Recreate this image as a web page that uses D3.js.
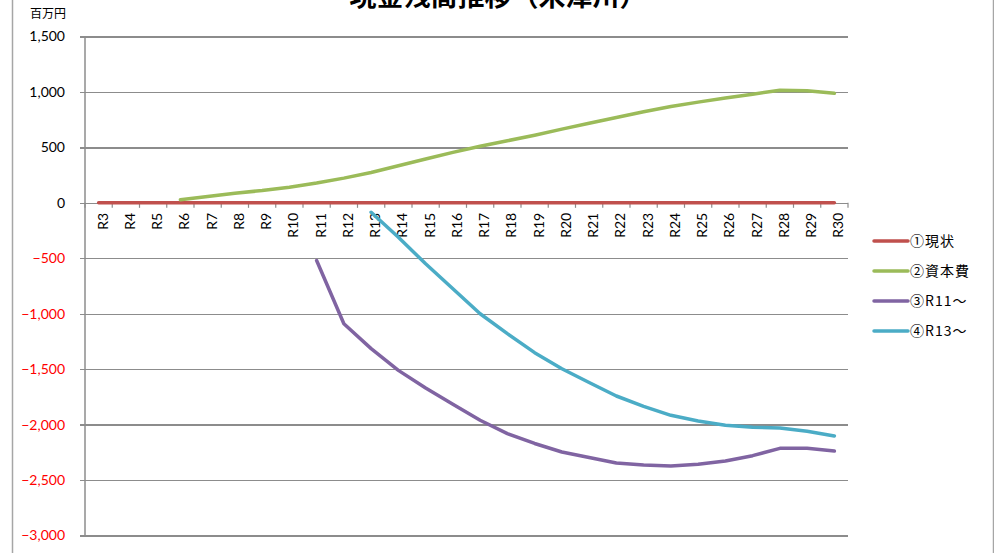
<!DOCTYPE html>
<html>
<head>
<meta charset="utf-8">
<script src="https://cdn.jsdelivr.net/npm/d3@7/dist/d3.min.js"></script>
<style>
  html, body { margin: 0; padding: 0; background: #fff; }
  svg { display: block; }
  text { font-family: "Lato", "Noto Sans CJK JP", sans-serif; }
</style>
</head>
<body>
<svg id="chart" width="994" height="553"></svg>
<script>
// Fiscal years (Reiwa 3 to Reiwa 30)
const categories = ["R3","R4","R5","R6","R7","R8","R9","R10","R11","R12","R13","R14","R15","R16",
  "R17","R18","R19","R20","R21","R22","R23","R24","R25","R26","R27","R28","R29","R30"];

// Cash balance by scenario, millions of yen (null = no value for that year)
const genjo = [0,0,0,0,0,0,0,0,0,0,0,0,0,0,0,0,0,0,0,0,0,0,0,0,0,0,0,0];
const shihonhi = [null,null,null,27,57,87,111,141,178,223,274,334,395,455,
  510,560,610,665,718,770,822,868,908,945,980,1016,1010,988];
const fromR11 = [null,null,null,null,null,null,null,null,-520,-1090,-1315,-1511,-1670,-1817,
  -1961,-2081,-2170,-2247,-2297,-2346,-2364,-2373,-2358,-2328,-2280,-2214,-2214,-2238];
const fromR13 = [null,null,null,null,null,null,null,null,null,null,-85,-310,-550,-775,
  -1000,-1180,-1351,-1496,-1620,-1742,-1835,-1916,-1967,-2006,-2024,-2030,-2060,-2102];

const seriesNames = ["①現状", "②資本費", "③R11～", "④R13～"];
const seriesColors = ["#C0504D", "#9BBB59", "#8064A2", "#4BACC6"];
const yTicks = [1500, 1000, 500, 0, -500, -1000, -1500, -2000, -2500, -3000];

const series = [genjo, shihonhi, fromR11, fromR13];

const svg = d3.select("#chart");
const plot = { left: 85, right: 848, top: 36.5, bottom: 535.5 };

// chart-area frame edges
svg.append("line").attr("x1", 12.5).attr("x2", 12.5).attr("y1", 0).attr("y2", 553)
  .attr("stroke", "#a6a6a6").attr("stroke-width", 1.5);
svg.append("line").attr("x1", 993.5).attr("x2", 993.5).attr("y1", 0).attr("y2", 553)
  .attr("stroke", "#a6a6a6").attr("stroke-width", 1.5);

const x = d3.scaleBand().domain(categories).range([plot.left, plot.right]);
const y = d3.scaleLinear().domain([-3000, 1500]).range([plot.bottom, plot.top]);

// title (sits at the very top of the chart area)
svg.append("text")
  .attr("x", 498).attr("y", 6)
  .attr("text-anchor", "middle")
  .style("font-family", "'Noto Sans CJK JP', sans-serif")
  .style("font-weight", "bold")
  .style("font-size", "27px")
  .attr("fill", "#000")
  .text("現金残高推移（米津川）");

// unit label
svg.append("text")
  .attr("x", 30).attr("y", 18)
  .style("font-family", "'Noto Sans CJK JP', sans-serif")
  .style("font-size", "12px")
  .attr("fill", "#000")
  .text("百万円");

// horizontal gridlines with tick stubs
const yAxis = d3.axisLeft(y).tickValues(yTicks)
  .tickSize(-(plot.right - plot.left)).tickPadding(0).tickFormat(d3.format(","));
const yg = svg.append("g").attr("transform", `translate(${plot.left},0)`).call(yAxis);
yg.select(".domain").remove();
yg.selectAll(".tick line").attr("stroke", "#8c8c8c").attr("stroke-width", 1.3)
  .attr("x1", -5).attr("shape-rendering", "crispEdges");
yg.selectAll(".tick text")
  .attr("x", -20)
  .style("font-size", "14px")
  .attr("fill", d => d < 0 ? "#ff0000" : "#000");

// vertical axis line
svg.append("line")
  .attr("x1", plot.left).attr("x2", plot.left)
  .attr("y1", y(1500)).attr("y2", y(-3000))
  .attr("stroke", "#8c8c8c").attr("stroke-width", 1.5);

// category axis on the zero line
const xAxis = d3.axisBottom(x).tickSize(0).tickPadding(0);
const xg = svg.append("g").attr("transform", `translate(0,${y(0)})`).call(xAxis);
xg.select(".domain").remove();
xg.selectAll(".tick text")
  .attr("transform", "rotate(-90)")
  .attr("x", -10).attr("y", 4)
  .attr("dy", "0.35em")
  .attr("text-anchor", "end")
  .style("font-size", "14px")
  .attr("fill", "#000");

// tick marks at category boundaries
const boundaries = categories.map(c => x(c)).concat([plot.right]);
svg.append("g").selectAll("line").data(boundaries).join("line")
  .attr("x1", d => d).attr("x2", d => d)
  .attr("y1", y(0)).attr("y2", y(0) + 5)
  .attr("stroke", "#8c8c8c").attr("stroke-width", 1.2);

// series lines
const line = d3.line()
  .defined(d => d.v !== null)
  .x(d => x(d.c) + x.bandwidth() / 2)
  .y(d => y(d.v))
  .curve(d3.curveLinear);

series.forEach((vals, i) => {
  const pts = categories.map((c, j) => ({ c, v: vals[j] }));
  svg.append("path")
    .datum(pts)
    .attr("d", line)
    .attr("fill", "none")
    .attr("stroke", seriesColors[i])
    .attr("stroke-width", 3.5)
    .attr("stroke-linejoin", "round")
    .attr("stroke-linecap", "round");
});

// legend
const lg = svg.append("g");
seriesNames.forEach((name, i) => {
  const yy = 241 + i * 30;
  lg.append("line")
    .attr("x1", 874).attr("x2", 908).attr("y1", yy).attr("y2", yy)
    .attr("stroke", seriesColors[i]).attr("stroke-width", 3.5)
    .attr("stroke-linecap", "round");
  lg.append("text")
    .attr("x", 910).attr("y", yy).attr("dy", "0.36em")
    .style("font-family", "'Noto Sans CJK JP', sans-serif")
    .style("font-size", "14px")
    .style("letter-spacing", "1px")
    .attr("fill", "#000")
    .text(name);
});
</script>
</body>
</html>
